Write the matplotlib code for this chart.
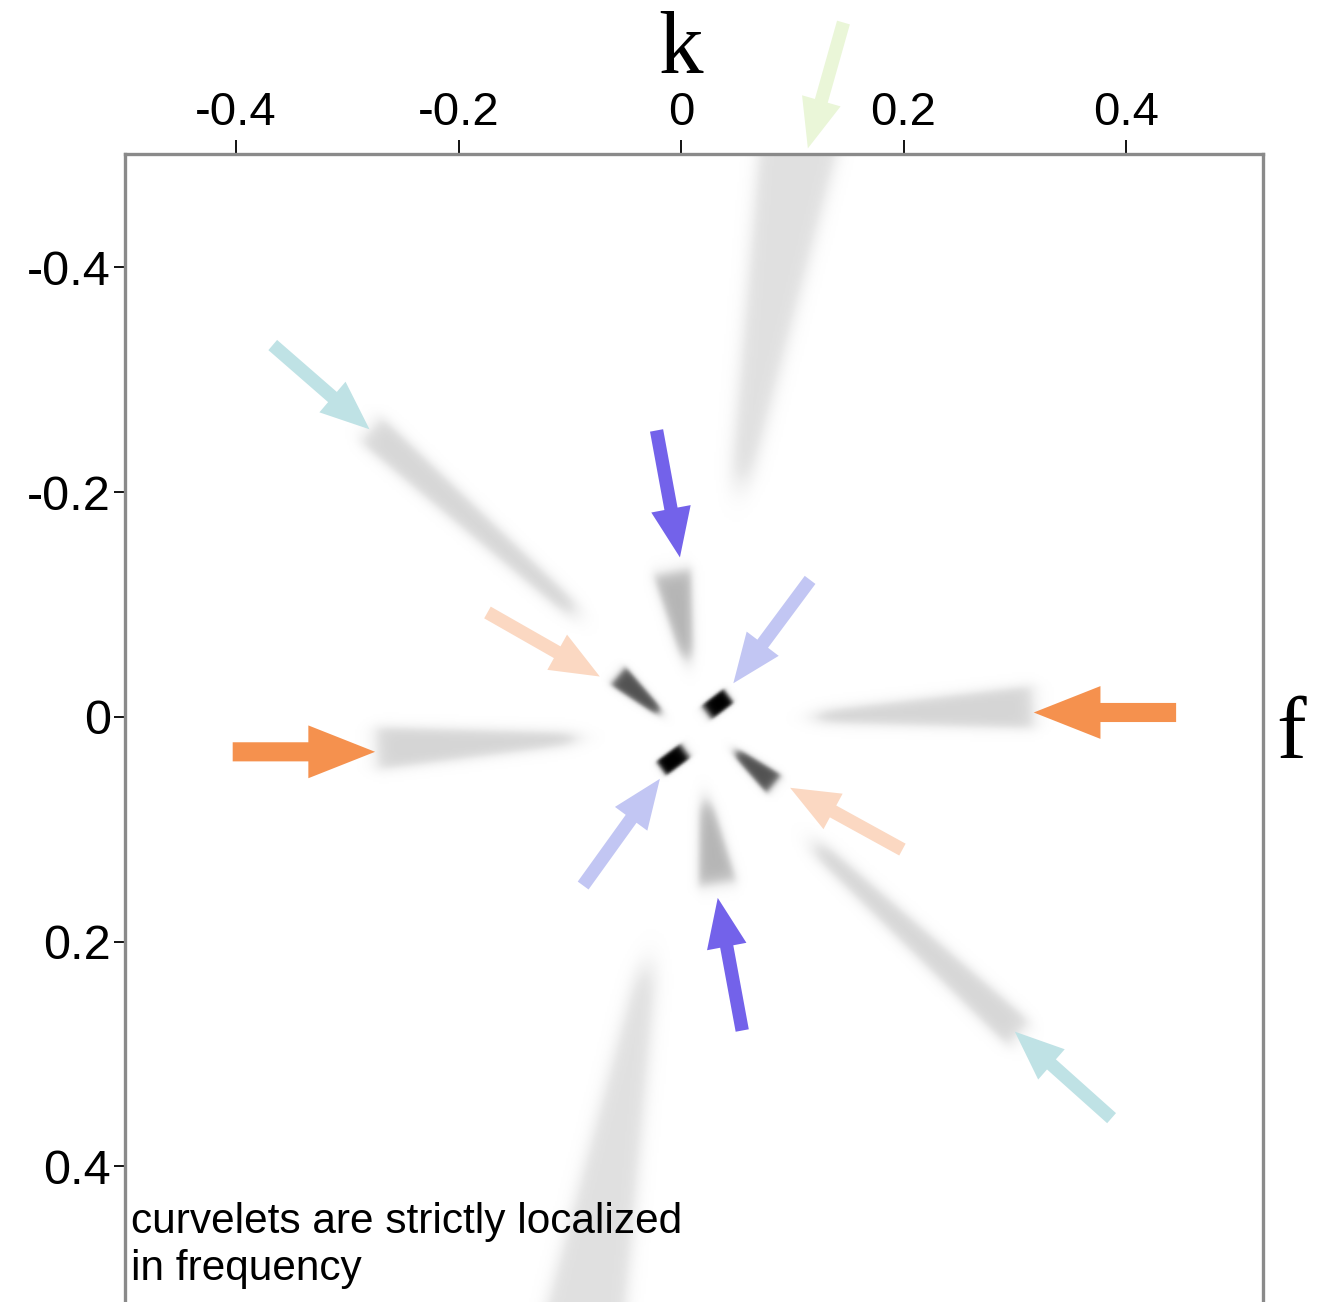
import numpy as np
import matplotlib
matplotlib.use("Agg")
import matplotlib.pyplot as plt
from matplotlib.patches import FancyArrow

plt.rcParams['axes.unicode_minus'] = False
plt.rcParams['font.family'] = ['Liberation Sans', 'DejaVu Sans']

# curvelet wedges in the (k, f) plane: inner end -> outer end, widths, darkness
wedge_x0 = [0.053, -0.030, -0.095, 0.120, -0.093, 0.120, 0.006, 0.022, -0.019, 0.049, 0.023, 0.004]
wedge_y0 = [-0.206, 0.221, -0.093, 0.114, 0.019, 0.000, -0.051, 0.074, -0.004, 0.031, -0.004, 0.030]
wedge_x1 = [0.112, -0.092, -0.280, 0.305, -0.275, 0.318, -0.008, 0.033, -0.057, 0.084, 0.043, -0.018]
wedge_y1 = [-0.545, 0.565, -0.257, 0.283, 0.028, -0.009, -0.130, 0.149, -0.037, 0.060, -0.019, 0.046]
wedge_w0 = [0.020, 0.020, 0.016, 0.016, 0.012, 0.012, 0.012, 0.012, 0.008, 0.008, 0.016, 0.016]
wedge_w1 = [0.080, 0.080, 0.032, 0.032, 0.040, 0.040, 0.036, 0.036, 0.022, 0.022, 0.016, 0.016]
wedge_shade = [0.21, 0.21, 0.26, 0.26, 0.27, 0.27, 0.40, 0.40, 0.75, 0.75, 1.0, 1.0]
wedge_blur = [0.008, 0.008, 0.006, 0.006, 0.006, 0.006, 0.005, 0.005, 0.003, 0.003, 0.002, 0.002]

# pointer arrows: tail -> head
arrow_x0 = [0.146, -0.367, 0.387, -0.022, 0.055, 0.116, -0.088, -0.174, 0.199, -0.403, 0.445]
arrow_y0 = [-0.618, -0.331, 0.357, -0.255, 0.279, -0.122, 0.150, -0.093, 0.118, 0.031, -0.004]
arrow_x1 = [0.114, -0.280, 0.300, -0.001, 0.033, 0.047, -0.019, -0.073, 0.098, -0.275, 0.317]
arrow_y1 = [-0.506, -0.256, 0.280, -0.142, 0.161, -0.030, 0.055, -0.036, 0.063, 0.031, -0.004]
arrow_colors = ['#eaf6d8', '#bfe2e5', '#bfe2e5', '#7362ea', '#7362ea', '#c2c6f3', '#c2c6f3',
                '#fbd8c2', '#fbd8c2', '#f5914e', '#f5914e']
arrow_big = [False] * 9 + [True, True]

xmin, xmax = -0.4998, 0.5231
ymin, ymax = -0.501, 0.5206

xs = np.linspace(xmin, xmax, 700)
ys = np.linspace(ymin - 0.05, ymax + 0.05, 760)
X, Y = np.meshgrid(xs, ys)


def sig(v):
    return 1.0 / (1.0 + np.exp(-v))


img = np.zeros_like(X)
for i in range(len(wedge_x0)):
    x0, y0, x1, y1 = wedge_x0[i], wedge_y0[i], wedge_x1[i], wedge_y1[i]
    L = np.hypot(x1 - x0, y1 - y0)
    ux, uy = (x1 - x0) / L, (y1 - y0) / L
    t = (X - x0) * ux + (Y - y0) * uy
    d = np.abs(-(X - x0) * uy + (Y - y0) * ux)
    hw = (wedge_w0[i] + (wedge_w1[i] - wedge_w0[i]) * np.clip(t / L, 0, 1)) / 2
    b = wedge_blur[i]
    a = sig((hw - d) / (b * 0.45)) * sig(t / b) * sig((L - t) / (b * 0.7))
    img = np.maximum(img, wedge_shade[i] * a)

fig = plt.figure(figsize=(13.28, 13.02), dpi=100)
ax = fig.add_axes([125 / 1328, 0.0, (1263 - 125) / 1328, 1 - 154 / 1302])
ax.imshow(img, cmap='Greys', vmin=0, vmax=1, extent=(xs[0], xs[-1], ys[-1], ys[0]),
          aspect='auto', interpolation='bilinear', zorder=1)

for i in range(len(arrow_x0)):
    if arrow_big[i]:
        w, hw, hl = 0.017, 0.047, 0.060
    else:
        w, hw, hl = 0.012, 0.036, 0.044
    ax.add_patch(FancyArrow(arrow_x0[i], arrow_y0[i], arrow_x1[i] - arrow_x0[i], arrow_y1[i] - arrow_y0[i],
                            width=w, head_width=hw, head_length=hl, length_includes_head=True,
                            color=arrow_colors[i], lw=0, clip_on=False, zorder=3))

ax.set_xlim(xmin, xmax)
ax.set_ylim(ymax, ymin)

ticks = [-0.4, -0.2, 0, 0.2, 0.4]
ax.set_xticks(ticks)
ax.set_xticklabels(['-0.4', '-0.2', '0', '0.2', '0.4'])
ax.set_yticks(ticks)
ax.set_yticklabels(['-0.4', '-0.2', '0', '0.2', '0.4'])
ax.xaxis.tick_top()
ax.tick_params(axis='x', which='both', top=True, bottom=False, direction='out', length=10,
               width=1.3, color='black', labelsize=34, pad=4)
ax.tick_params(axis='y', which='both', left=True, direction='out', length=8,
               width=1.3, color='black', labelsize=35, pad=2)

for side in ['top', 'left', 'right']:
    ax.spines[side].set_color('#8a8a8a')
    ax.spines[side].set_linewidth(2.4)
ax.spines['bottom'].set_visible(False)

fig.text(680 / 1328, 1 - 73 / 1302, 'k', fontsize=64, family=['Liberation Serif', 'DejaVu Serif'],
         ha='center', va='baseline')
fig.text(1291 / 1328, 1 - 758 / 1302, 'f', fontsize=64, family=['Liberation Serif', 'DejaVu Serif'],
         ha='center', va='baseline')

ax.text(-0.494, 0.459, 'curvelets are strictly localized', fontsize=30.5, ha='left', va='baseline', zorder=4)
ax.text(-0.494, 0.501, 'in frequency', fontsize=30.5, ha='left', va='baseline', zorder=4)

fig.savefig('out.png', dpi=100)
